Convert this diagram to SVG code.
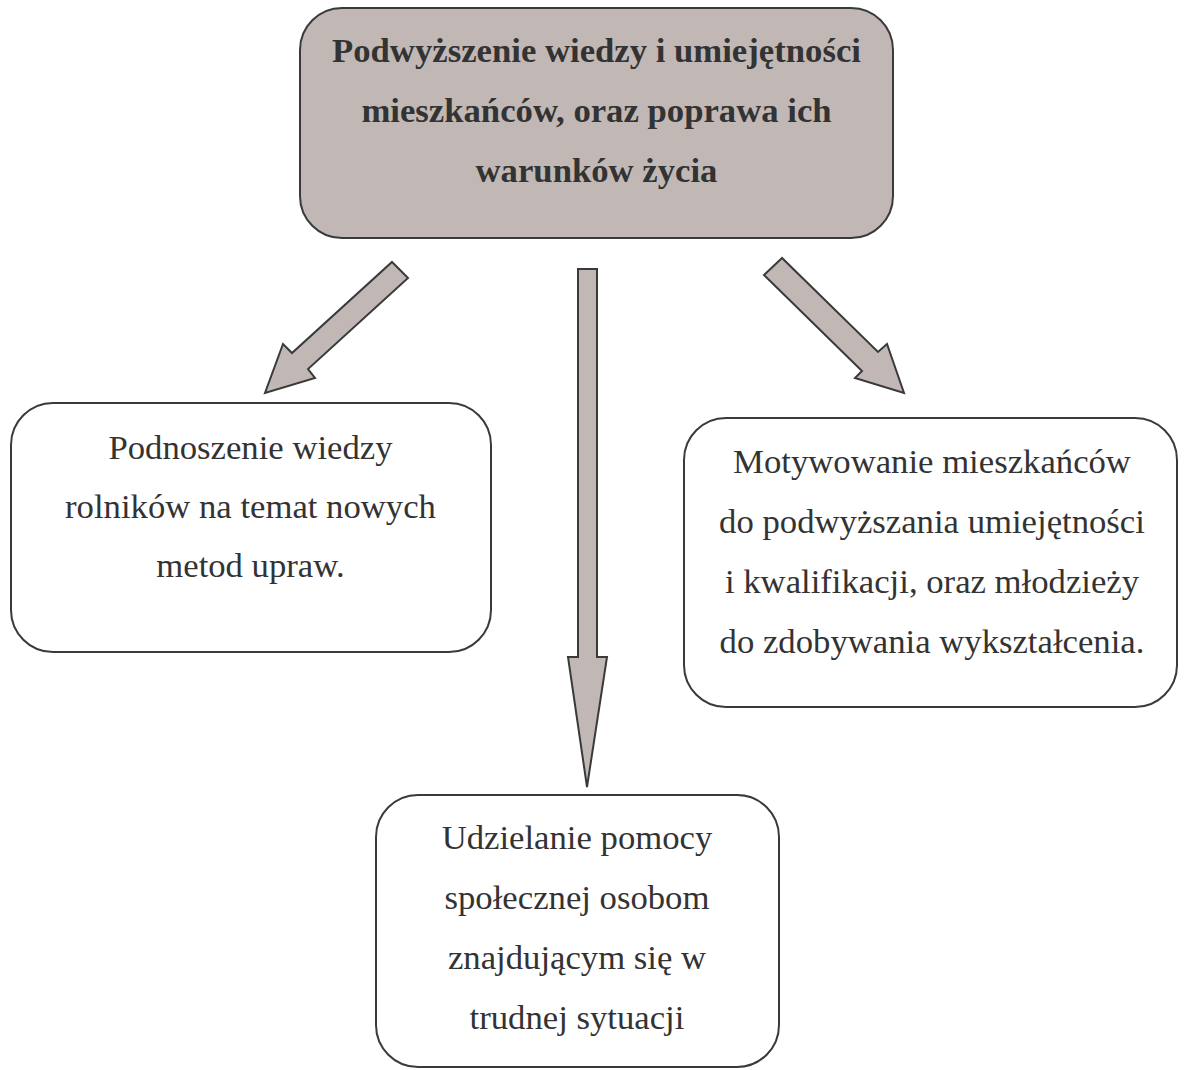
<svg xmlns="http://www.w3.org/2000/svg" width="1184" height="1070" viewBox="0 0 1184 1070">
<style>
.box{stroke:#3a3a3c;stroke-width:2}
.main{fill:#c1b8b6}
.sub{fill:#ffffff}
.arrow{fill:#c1b8b6;stroke:#3a3a3c;stroke-width:2;stroke-linejoin:miter}
text{font-family:"Liberation Serif","Times New Roman",serif;font-size:34.7px;fill:#333333;text-anchor:middle}
.b{font-weight:bold}
</style>
<rect width="1184" height="1070" fill="#ffffff"/>
<g id="connectors">
<polygon class="arrow" points="392,262 408,278 308,369 315,378 265,393 283,344 292,353"/>
<polygon class="arrow" points="578,269 597,269 597,657 607,657 587,787 568,657 578,657"/>
<polygon class="arrow" points="782,258 764,275 862,371 855,378 904,393 887,344 878,352"/>
</g>
<g id="node-main">
<rect class="box main" x="300" y="8" width="593" height="230" rx="42" ry="42"/>
<text class="b" x="596.5" y="62">Podwyższenie wiedzy i umiejętności</text>
<text class="b" x="596.5" y="122">mieszkańców, oraz poprawa ich</text>
<text class="b" x="596.5" y="182">warunków życia</text>
</g>
<g id="node-left">
<rect class="box sub" x="11" y="403" width="480" height="249" rx="42" ry="42"/>
<text x="250.5" y="459">Podnoszenie wiedzy</text>
<text x="250.5" y="518">rolników na temat nowych</text>
<text x="250.5" y="577">metod upraw.</text>
</g>
<g id="node-right">
<rect class="box sub" x="684" y="418" width="493" height="289" rx="42" ry="42"/>
<text x="932" y="473">Motywowanie mieszkańców</text>
<text x="932" y="533">do podwyższania umiejętności</text>
<text x="932" y="593">i kwalifikacji, oraz młodzieży</text>
<text x="932" y="653">do zdobywania wykształcenia.</text>
</g>
<g id="node-bottom">
<rect class="box sub" x="376" y="795" width="403" height="272" rx="42" ry="42"/>
<text x="577" y="849">Udzielanie pomocy</text>
<text x="577" y="909">społecznej osobom</text>
<text x="577" y="969">znajdującym się w</text>
<text x="577" y="1029">trudnej sytuacji</text>
</g>
</svg>
